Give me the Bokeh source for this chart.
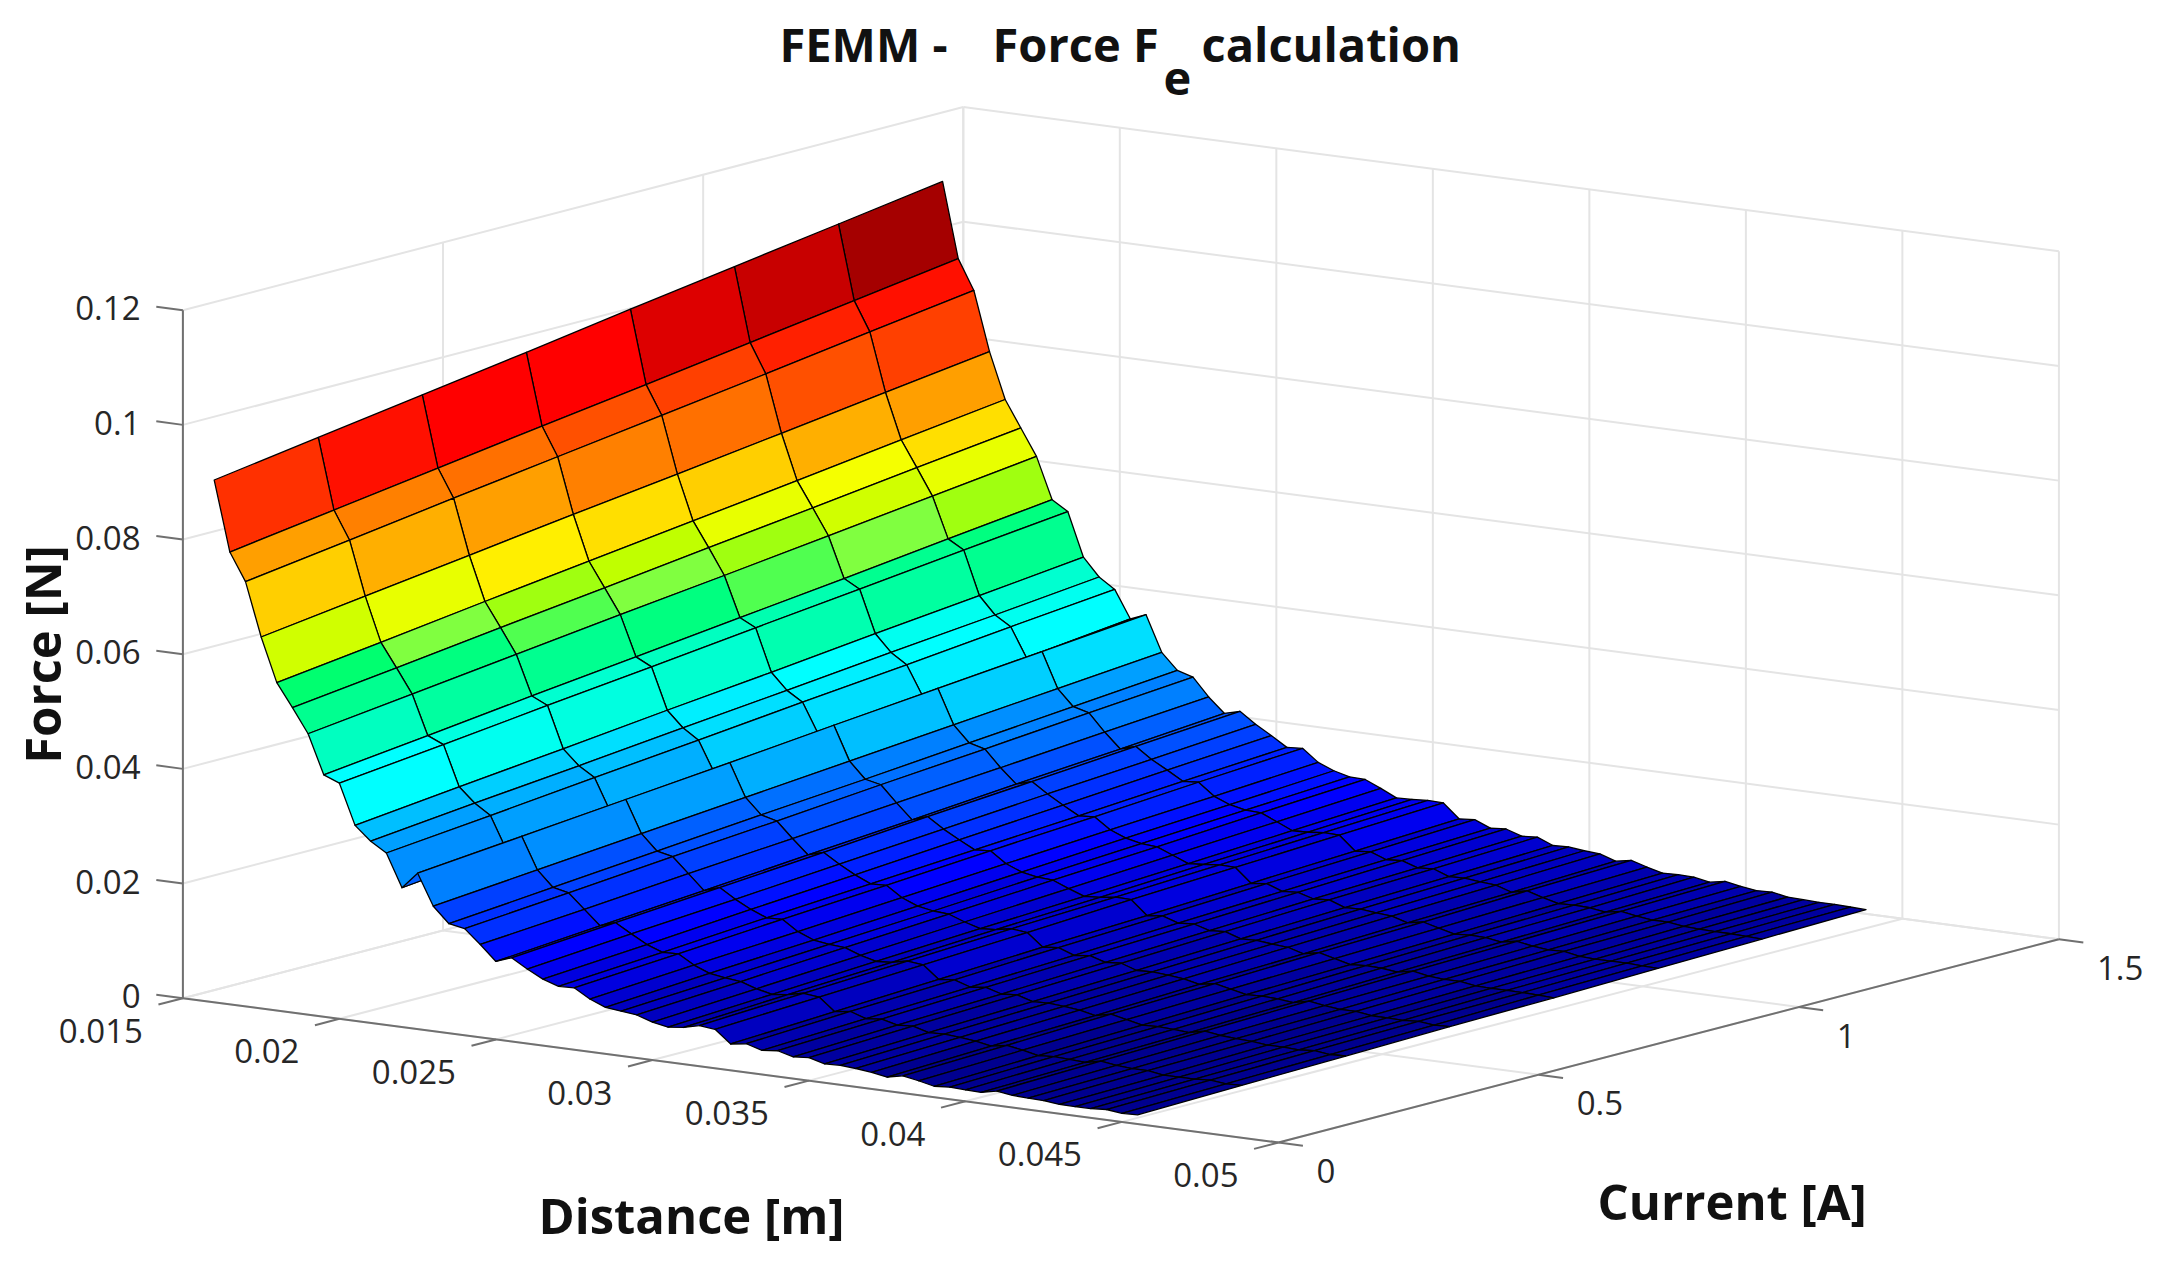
from bokeh.plotting import figure
from bokeh.models import Range1d
from bokeh.core.properties import value
from bokeh.embed import file_html
from bokeh.resources import INLINE
import numpy as np

# ---- data ----
current = [0.0, 0.2, 0.4, 0.6, 0.8, 1.0, 1.2, 1.4]
distance = [0.016, 0.0165, 0.017, 0.0175, 0.018, 0.0185, 0.019, 0.0195, 0.02, 0.0205,
            0.021, 0.0215, 0.022, 0.0225, 0.023, 0.0235, 0.024, 0.0245, 0.025, 0.0255,
            0.026, 0.0265, 0.027, 0.0275, 0.028, 0.0285, 0.029, 0.0295, 0.03, 0.0305,
            0.031, 0.0315, 0.032, 0.0325, 0.033, 0.0335, 0.034, 0.0345, 0.035, 0.0355,
            0.036, 0.0365, 0.037, 0.0375, 0.038, 0.0385, 0.039, 0.0395, 0.04, 0.0405,
            0.041, 0.0415, 0.042, 0.0425, 0.043, 0.0435, 0.044, 0.0445, 0.045, 0.0455]
force = [
    [.0911, .0938, .0965, .0992, .1020, .1047, .1074, .1101],
    [.0789, .0815, .0841, .0867, .0892, .0918, .0944, .0970],
    [.0741, .0766, .0792, .0817, .0842, .0867, .0893, .0918],
    [.0648, .0672, .0696, .0720, .0743, .0767, .0791, .0815],
    [.0572, .0595, .0619, .0642, .0665, .0688, .0712, .0735],
    [.0532, .0554, .0577, .0599, .0622, .0644, .0667, .0689],
    [.0490, .0512, .0534, .0556, .0577, .0599, .0621, .0643],
    [.0422, .0443, .0465, .0486, .0507, .0528, .0550, .0571],
    [.0411, .0431, .0452, .0472, .0493, .0513, .0534, .0554],
    [.0341, .0361, .0380, .0400, .0419, .0439, .0458, .0478],
    [.0317, .0336, .0354, .0373, .0391, .0410, .0428, .0447],
    [.0300, .0318, .0337, .0355, .0374, .0392, .0411, .0429],
    [.0243, .0263, .0282, .0302, .0322, .0342, .0361, .0381],
    [.0272, .0289, .0306, .0323, .0341, .0358, .0375, .0392],
    [.0218, .0234, .0250, .0266, .0282, .0298, .0314, .0330],
    [.0191, .0207, .0223, .0239, .0254, .0270, .0286, .0302],
    [.0186, .0201, .0217, .0232, .0248, .0263, .0279, .0294],
    [.0162, .0176, .0191, .0205, .0220, .0234, .0249, .0263],
    [.0136, .0151, .0165, .0180, .0194, .0209, .0223, .0238],
    [.0146, .0160, .0174, .0188, .0203, .0217, .0231, .0245],
    [.0130, .0144, .0157, .0171, .0185, .0199, .0212, .0226],
    [.0116, .0129, .0143, .0156, .0170, .0183, .0197, .0210],
    [.0107, .0119, .0132, .0144, .0156, .0168, .0181, .0193],
    [.0108, .0120, .0133, .0145, .0158, .0170, .0183, .0195],
    [.0092, .0104, .0115, .0127, .0139, .0151, .0162, .0174],
    [.0081, .0093, .0104, .0116, .0128, .0140, .0151, .0163],
    [.0078, .0089, .0100, .0111, .0123, .0134, .0145, .0156],
    [.0075, .0086, .0098, .0109, .0121, .0132, .0144, .0155],
    [.0066, .0077, .0088, .0099, .0110, .0121, .0132, .0143],
    [.0061, .0071, .0081, .0091, .0100, .0110, .0120, .0130],
    [.0064, .0074, .0083, .0093, .0102, .0112, .0121, .0131],
    [.0071, .0080, .0089, .0098, .0106, .0115, .0124, .0133],
    [.0068, .0077, .0086, .0095, .0105, .0114, .0123, .0132],
    [.0046, .0055, .0064, .0073, .0081, .0090, .0099, .0108],
    [.0050, .0059, .0067, .0076, .0084, .0093, .0101, .0110],
    [.0042, .0050, .0058, .0066, .0075, .0083, .0091, .0099],
    [.0045, .0053, .0061, .0069, .0077, .0085, .0093, .0101],
    [.0038, .0046, .0053, .0061, .0069, .0077, .0084, .0092],
    [.0040, .0048, .0055, .0063, .0071, .0079, .0086, .0094],
    [.0033, .0040, .0047, .0054, .0062, .0069, .0076, .0083],
    [.0034, .0041, .0048, .0055, .0063, .0070, .0077, .0084],
    [.0032, .0039, .0046, .0053, .0060, .0067, .0074, .0081],
    [.0029, .0036, .0043, .0050, .0058, .0065, .0072, .0079],
    [.0024, .0031, .0037, .0044, .0050, .0057, .0063, .0070],
    [.0030, .0036, .0043, .0049, .0056, .0062, .0069, .0075],
    [.0025, .0031, .0037, .0043, .0049, .0055, .0061, .0067],
    [.0019, .0025, .0031, .0037, .0042, .0048, .0054, .0060],
    [.0021, .0027, .0032, .0038, .0044, .0050, .0055, .0061],
    [.0020, .0026, .0031, .0037, .0043, .0049, .0054, .0060],
    [.0019, .0024, .0029, .0034, .0040, .0045, .0050, .0055],
    [.0025, .0030, .0035, .0040, .0045, .0050, .0055, .0060],
    [.0021, .0026, .0031, .0036, .0040, .0045, .0050, .0055],
    [.0020, .0024, .0029, .0033, .0038, .0042, .0047, .0051],
    [.0019, .0024, .0028, .0033, .0038, .0043, .0047, .0052],
    [.0016, .0020, .0025, .0029, .0034, .0038, .0043, .0047],
    [.0016, .0020, .0025, .0029, .0033, .0037, .0042, .0046],
    [.0016, .0020, .0024, .0028, .0033, .0037, .0041, .0045],
    [.0018, .0022, .0026, .0030, .0033, .0037, .0041, .0045],
    [.0015, .0019, .0023, .0027, .0032, .0036, .0040, .0044],
    [.0016, .0020, .0024, .0028, .0031, .0035, .0039, .0043],
]
x_ticks = [0.015, 0.02, 0.025, 0.03, 0.035, 0.04, 0.045, 0.05]
x_tick_labels = ["0.015", "0.02", "0.025", "0.03", "0.035", "0.04", "0.045", "0.05"]
c_ticks = [0.0, 0.5, 1.0, 1.5]
c_tick_labels = ["0", "0.5", "1", "1.5"]
z_ticks = [0.0, 0.02, 0.04, 0.06, 0.08, 0.1, 0.12]
z_tick_labels = ["0", "0.02", "0.04", "0.06", "0.08", "0.1", "0.12"]

# ---- view: orthographic projection of the 3-D box on the page ----
XMIN, XMAX, CMAX, ZMAX = 0.015, 0.05, 1.5, 0.12

def P(x, c, z):
    a = (x - XMIN) / (XMAX - XMIN)
    b = c / CMAX
    return (182.4 + a * 1095.6 + b * 780.4,
            997.7 + a * 144.3 - b * 203.2 - z / ZMAX * 688.0)

def seg(p0, p1):
    a, b = P(*p0), P(*p1)
    return [a[0], b[0]], [a[1], b[1]]

def jet64():
    m, n = 64, 16
    u = np.r_[np.arange(1, n + 1) / n, np.ones(n - 1), np.arange(n, 0, -1) / n]
    g = 8 + np.arange(1, len(u) + 1)
    r = g + n
    b = g - n
    J = np.zeros((m, 3))
    for i, v in enumerate(u):
        if r[i] <= m:
            J[r[i] - 1, 0] = v
        J[g[i] - 1, 1] = v
        if b[i] >= 1:
            J[b[i] - 1, 2] = v
    return ["#%02x%02x%02x" % tuple(int(round(c * 255)) for c in row) for row in J]

JET = jet64()
# the picture's greens and deep reds differ from plain jet (1-based level -> colour)
overrides = {25: "#00fff0", 26: "#00ffe0", 27: "#00ffd0", 28: "#00ffc0", 29: "#00ffb0",
             30: "#00ffa0", 31: "#00ff90", 32: "#00ff80", 33: "#00ff70", 34: "#50ff50",
             35: "#80ff40", 36: "#a0ff10", 37: "#c0ff00", 38: "#d0ff00", 39: "#e8ff00",
             40: "#f5ff00", 57: "#ff0000", 58: "#ff0000", 59: "#ee0000", 60: "#dd0000",
             61: "#c80000", 62: "#b40000", 63: "#a50000", 64: "#960000"}
for k, col in overrides.items():
    JET[k - 1] = col
F = np.array(force)
zlo, zhi = F.min(), F.max()

p = figure(width=2147, height=1250, output_backend="svg", toolbar_location=None,
           x_range=Range1d(0, 2147), y_range=Range1d(1250, 0),
           min_border=0, outline_line_color=None, background_fill_color="white")
p.axis.visible = False
p.grid.visible = False

# ---- grid on the walls and floor ----
gx, gy = [], []
def add(a, b):
    s = seg(a, b)
    gx.append(s[0]); gy.append(s[1])
for z in z_ticks:
    add((XMIN, 0, z), (XMIN, CMAX, z))
    add((XMIN, CMAX, z), (XMAX, CMAX, z))
for c in c_ticks:
    add((XMIN, c, 0), (XMIN, c, ZMAX))
    add((XMIN, c, 0), (XMAX, c, 0))
for x in x_ticks:
    add((x, CMAX, 0), (x, CMAX, ZMAX))
    add((x, 0, 0), (x, CMAX, 0))
p.multi_line(gx, gy, line_color="#e4e4e4", line_width=2)

# ---- axes and ticks ----
ax, ay = [], []
def addax(a, b):
    ax.append([a[0], b[0]]); ay.append([a[1], b[1]])
addax(P(XMIN, 0, 0), P(XMIN, 0, ZMAX))
addax(P(XMIN, 0, 0), P(XMAX, 0, 0))
addax(P(XMAX, 0, 0), P(XMAX, CMAX, 0))
for z in z_ticks:
    addax(P(XMIN, 0, z), P(XMIN - 0.00085, 0, z))
for x in x_ticks:
    addax(P(x, 0, 0), P(x, -0.047, 0))
for c in c_ticks:
    addax(P(XMAX, c, 0), P(XMAX + 0.00078, c, 0))
p.multi_line(ax, ay, line_color="#707070", line_width=2)

# ---- surface, far to near, one flat colour per facet ----
xs, ys, fills = [], [], []
for i in range(len(distance) - 1):
    for j in range(len(current) - 2, -1, -1):
        corners = [(i, j), (i, j + 1), (i + 1, j + 1), (i + 1, j)]
        pts = [P(distance[a], current[b], force[a][b]) for a, b in corners]
        xs.append([q[0] for q in pts])
        ys.append([q[1] for q in pts])
        k = int((force[i][j] - zlo) / (zhi - zlo) * 64)
        fills.append(JET[min(k, 63)])
p.patches(xs, ys, fill_color=fills, line_color="#000000", line_width=1.3, line_join="round")

# ---- tick labels ----
TICK = "#262626"
FONT = value("Open Sans")
for z, t in zip(z_ticks, z_tick_labels):
    q = P(XMIN, 0, z)
    p.text([140], [q[1] - 2], text=[t], text_font=FONT, text_font_size="33px", text_color=TICK,
           text_align="right", text_baseline="middle")
for x, t in zip(x_ticks, x_tick_labels):
    q = P(x, 0, 0)
    p.text([q[0] - 40], [q[1] + 32.5], text=[t], text_font=FONT, text_font_size="33px", text_color=TICK,
           text_align="right", text_baseline="middle")
for c, t in zip(c_ticks, c_tick_labels):
    q = P(XMAX, c, 0)
    p.text([q[0] + 38], [q[1] + 28.5], text=[t], text_font=FONT, text_font_size="33px", text_color=TICK,
           text_align="left", text_baseline="middle")

# ---- titles ----
def bold(x, y, t, size, align="left", angle=0.0):
    p.text([x], [y], text=[t], text_font=FONT, text_font_style="bold", text_font_size=size,
           text_color="#111111", text_align=align, text_baseline="middle", angle=angle)

bold(779, 43, "FEMM -", "47px")
bold(992, 43, "Force F", "47px")
bold(1163, 78, "e", "47px")
bold(1201, 43, "calculation", "47px")
bold(538, 1214, "Distance [m]", "49px")
bold(1597, 1200, "Current [A]", "49px")
bold(41, 654, "Force [N]", "49px", align="center", angle=np.pi / 2)

open("out.html", "w").write(file_html(p, INLINE))
